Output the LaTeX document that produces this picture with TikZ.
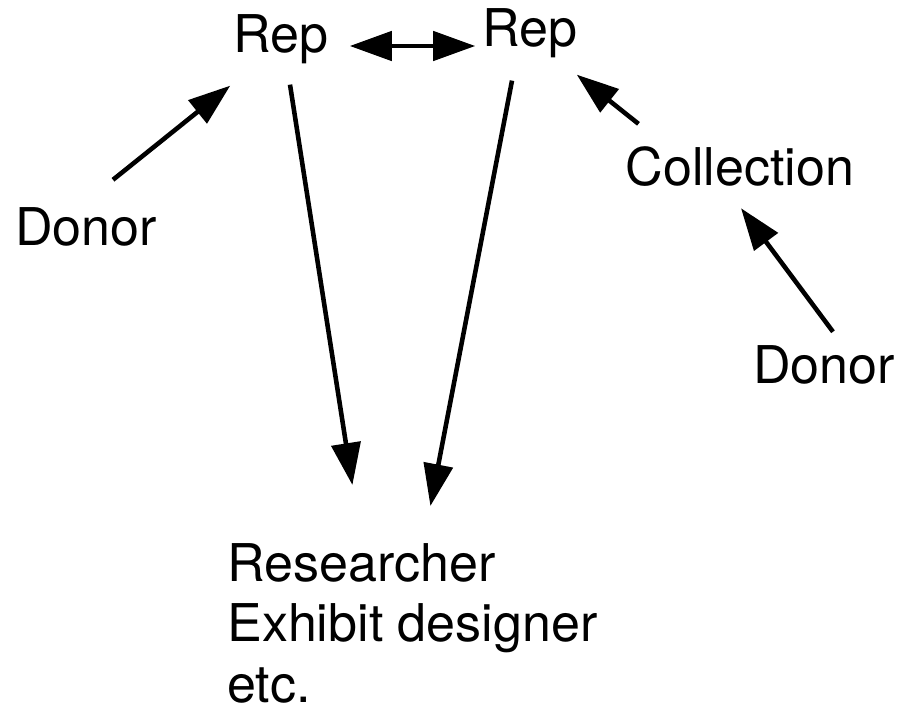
\documentclass[tikz,border=0pt]{standalone}
\usepackage{fontspec}
\setmainfont{TeX Gyre Heros}
\usetikzlibrary{calc,arrows.meta,positioning}

\begin{document}
\begin{tikzpicture}[x=0.01cm,y=-0.01cm,>={Triangle[length=4.2mm,width=2.9mm]},->,line width=1.3pt,
    lbl/.style={inner sep=0pt,anchor=base,font=\fontsize{14.8}{17.2}\selectfont}]
%
   \useasboundingbox (0,0) rectangle (903,706);
   \node[lbl]          (rep1) at (281,52)  {Rep};
   \node[lbl]          (rep2) at (530,47)  {Rep};
   \node[lbl]          (don1) at (86,245)  {Donor};
   \node[lbl]          (coll) at (740,185) {Collection};
   \node[lbl]          (don2) at (824,383) {Donor};
   \node[lbl,anchor=north west,align=left] (res) at (225,541) {Researcher\\Exhibit designer\\etc.};
   \path ($(don1.north)+(27,-25)$)     edge ($(rep1.south west)+(-1,20)$);
   \path ($(rep1.base east)+(19,-6)$)  edge[<->] ($(rep2.base west)+(-5,-1)$);
   \path ($(rep1.south)+(9,19)$)       edge ($(res.north)+(-60,-56)$);
   \path ($(rep2.south)+(-18,20)$)     edge ($(res.north)+(18,-35)$);
   \path ($(coll.north west)+(15,-20)$) edge ($(rep2.south east)+(-3,14)$);
   \path ($(don2.north)+(9,-11)$)      edge ($(coll.south)+(1,20)$);
\end{tikzpicture}
\end{document}
